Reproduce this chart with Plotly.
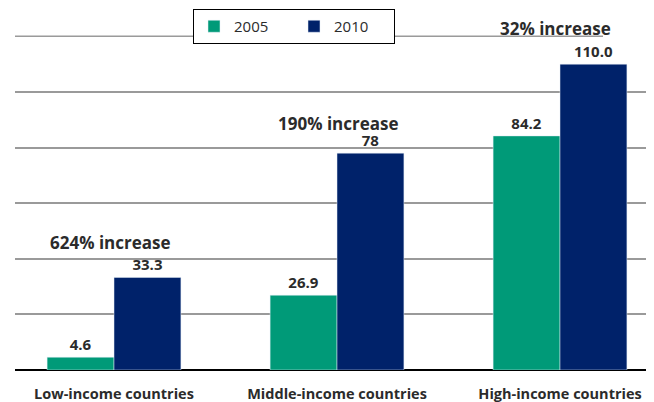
import plotly.graph_objects as go

categories = ["Low-income countries", "Middle-income countries", "High-income countries"]
values_2005 = [4.6, 26.9, 84.2]
values_2010 = [33.3, 78, 110.0]
labels_2005 = ["4.6", "26.9", "84.2"]
labels_2010 = ["33.3", "78", "110.0"]
increase_labels = ["624% increase", "190% increase", "32% increase"]
increase_x = [-0.016, 1.005, 1.978]
increase_y = [45.7, 88.5, 123.0]
grid_values = [0, 20, 40, 60, 80, 100]
top_grid_value = 120

GREEN = "#009a78"
NAVY = "#00226a"
TEXT = "#2b2b2b"
GRID = "#9a9a9a"
FONT = "Open Sans"

# page has an 8px body margin, so the figure is drawn 8px in from the window corner
fig = go.Figure()
fig.add_trace(go.Bar(
    name="2005", x=categories, y=values_2005, text=labels_2005,
    textposition="outside", marker_color=GREEN, cliponaxis=False,
    textfont=dict(family=FONT, size=15, color=TEXT, weight="bold"),
))
fig.add_trace(go.Bar(
    name="2010", x=categories, y=values_2010, text=labels_2010,
    textposition="outside", marker_color=NAVY, cliponaxis=False,
    textfont=dict(family=FONT, size=15, color=TEXT, weight="bold"),
))

for lbl, xx, yy in zip(increase_labels, increase_x, increase_y):
    fig.add_annotation(
        x=xx, y=yy, xref="x", yref="y", text=f"<b>{lbl}</b>", showarrow=False,
        font=dict(family=FONT, size=17, color=TEXT), xanchor="center", yanchor="middle",
    )

# top gridline stops under the last annotation, as in the original
fig.add_shape(
    type="line", xref="paper", yref="y", x0=0, x1=(603 - 15) / 639,
    y0=top_grid_value, y1=top_grid_value, line=dict(color=GRID, width=1.5), layer="below",
)

fig.update_layout(
    width=646, height=394,
    margin=dict(l=7, r=0, t=0, b=32, autoexpand=False),
    paper_bgcolor="white", plot_bgcolor="white",
    barmode="group", bargap=0.4, bargroupgap=0,
    font=dict(family=FONT, color=TEXT),
    showlegend=True,
    legend=dict(
        orientation="h", xref="paper", yref="paper",
        x=(286 - 7) / 639, xanchor="center", y=1 - 1 / 362, yanchor="top",
        bgcolor="white", bordercolor="black", borderwidth=1,
        font=dict(family=FONT, size=15, color=TEXT),
        entrywidth=55, itemwidth=30,
    ),
    uniformtext=dict(mode=False),
)
fig.update_xaxes(
    range=[-0.444, 2.4215], showgrid=False, showline=False, ticks="",
    tickfont=dict(family=FONT, size=14.5, color=TEXT, weight="bold"),
    ticklabelstandoff=13, automargin=False,
)
fig.update_yaxes(
    range=[0, 130.2], showticklabels=False, showgrid=True, gridcolor=GRID,
    gridwidth=1.5, tickmode="array", tickvals=grid_values, zeroline=True,
    zerolinecolor="black", zerolinewidth=2, showline=False, automargin=False,
)

fig.write_html("out.html")
